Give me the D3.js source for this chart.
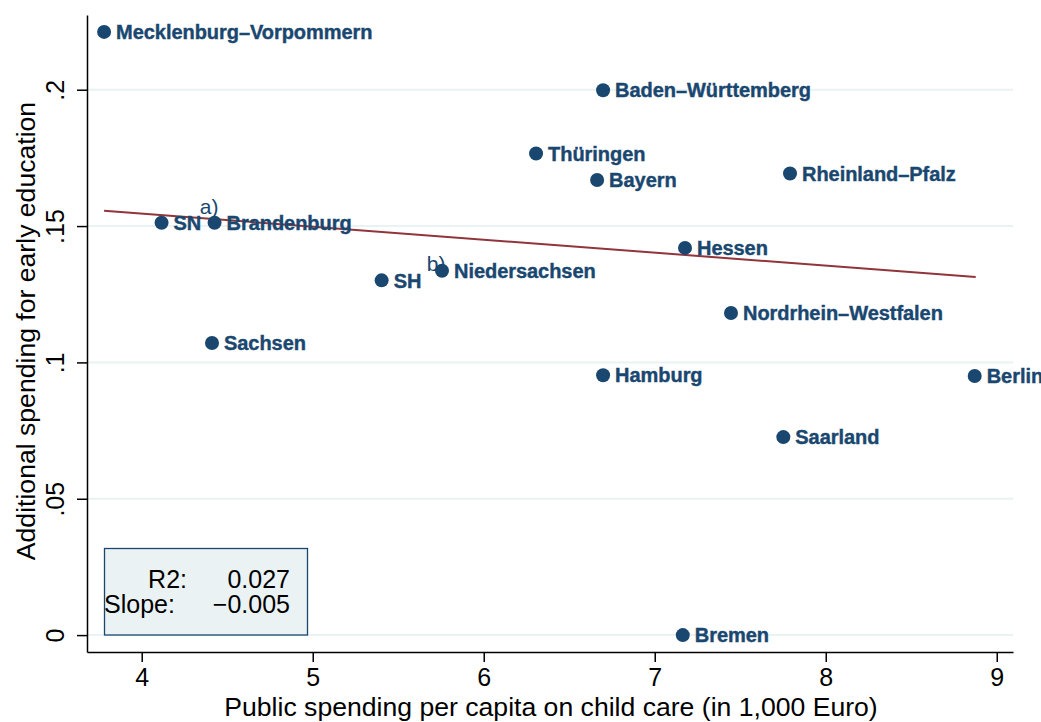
<!DOCTYPE html>
<html><head><meta charset="utf-8">
<script src="https://cdn.jsdelivr.net/npm/d3@7"></script>
<style>
html,body{margin:0;padding:0;background:#fff;}
svg{display:block;font-family:"Liberation Sans",Arial,sans-serif;}
</style></head>
<body><svg id="c" width="1041" height="722"></svg>
<script>
// Data
const states = ["Mecklenburg–Vorpommern","Baden–Württemberg","Thüringen","Bayern","Rheinland–Pfalz","SN","Brandenburg","Hessen","Niedersachsen","SH","Nordrhein–Westfalen","Sachsen","Hamburg","Berlin","Saarland","Bremen"];
const publicSpending = [3.780,6.698,6.306,6.663,7.791,4.116,4.426,7.177,5.756,5.403,7.446,4.411,6.698,8.871,7.752,7.164];
const additionalSpending = [0.2212,0.1998,0.1766,0.1669,0.1693,0.1512,0.1512,0.1420,0.1336,0.1301,0.1181,0.1071,0.0953,0.0950,0.0726,0.0000];
const fitX = [3.780, 8.877];
const fitY = [0.1556, 0.1313];
const notes = [{text:"a)", x:4.34, y:0.1545},{text:"b)", x:5.667, y:0.1335}];
const xTicks = [4,5,6,7,8,9];
const yTicks = [0,0.05,0.1,0.15,0.2];
const yTickLabels = ["0",".05",".1",".15",".2"];
const statLabels = ["R2:","Slope:"];
const statValues = ["0.027","\u22120.005"];

const svg = d3.select("#c");
const navy = "#1a476f", maroon = "#90353b", grid = "#eaf2f3";
const x = d3.scaleLinear().domain([3.68, 9.095]).range([87, 1013]);
const y = d3.scaleLinear().domain([-0.0062, 0.2274]).range([652, 15]);

// gridlines
svg.append("g").selectAll("line").data(yTicks).join("line")
  .attr("x1", 88).attr("x2", 1013)
  .attr("y1", d => y(d)).attr("y2", d => y(d))
  .attr("stroke", grid).attr("stroke-width", 2);

// stats box
svg.append("rect").attr("x", 104.5).attr("y", 548.5).attr("width", 203).attr("height", 86.5)
  .attr("fill", grid).attr("stroke", navy).attr("stroke-width", 1.3);
const st = svg.append("g").attr("font-size", 25).attr("fill", "#000");
st.append("text").attr("x", 187).attr("y", 588).attr("text-anchor","end").text(statLabels[0]);
st.append("text").attr("x", 290).attr("y", 588).attr("text-anchor","end").text(statValues[0]);
st.append("text").attr("x", 104).attr("y", 613).attr("text-anchor","start").text(statLabels[1]);
st.append("text").attr("x", 290).attr("y", 613).attr("text-anchor","end").text(statValues[1]);

// fit line
svg.append("line").attr("x1", x(fitX[0])).attr("y1", y(fitY[0]))
  .attr("x2", x(fitX[1])).attr("y2", y(fitY[1]))
  .attr("stroke", maroon).attr("stroke-width", 2);

// points
const pts = states.map((s,i)=>({s, x:publicSpending[i], y:additionalSpending[i]}));
svg.append("g").selectAll("circle").data(pts).join("circle")
  .attr("cx", d=>x(d.x)).attr("cy", d=>y(d.y)).attr("r", 7).attr("fill", navy);
svg.append("g").selectAll("text").data(pts).join("text")
  .attr("x", d=>x(d.x)+12).attr("y", d=>y(d.y)+7.2)
  .attr("font-size", 20).attr("font-weight","bold").attr("letter-spacing", -0.05)
  .attr("fill", navy).attr("stroke", navy).attr("stroke-width", 0.4)
  .text(d=>d.s);
svg.append("g").selectAll("text").data(notes).join("text")
  .attr("x", d=>x(d.x)).attr("y", d=>y(d.y))
  .attr("font-size", 21).attr("fill", navy).text(d=>d.text);

// axes
const xa = svg.append("g").attr("transform","translate(0,652)")
  .call(d3.axisBottom(x).tickValues(xTicks).tickFormat(d3.format("d")).tickSize(10).tickSizeOuter(0).tickPadding(6));
xa.select(".domain").attr("stroke","#000").attr("stroke-width",1.5);
xa.selectAll(".tick line").attr("stroke","#000").attr("stroke-width",1.5);
xa.selectAll(".tick text").attr("font-size",25).attr("font-family","Liberation Sans, Arial, sans-serif").attr("fill","#000");

const ya = svg.append("g").attr("transform","translate(87,0)")
  .call(d3.axisLeft(y).tickValues(yTicks).tickFormat((d,i)=>yTickLabels[i]).tickSize(10).tickSizeOuter(0).tickPadding(6));
ya.select(".domain").attr("stroke","#000").attr("stroke-width",1.5);
ya.selectAll(".tick line").attr("stroke","#000").attr("stroke-width",1.5);
ya.selectAll(".tick text").attr("font-size",25).attr("font-family","Liberation Sans, Arial, sans-serif").attr("fill","#000")
  .attr("x", 0).attr("dy", 0)
  .attr("transform", "translate(-23,0) rotate(-90)").attr("text-anchor","middle");

svg.append("text").attr("x", 551).attr("y", 716).attr("text-anchor","middle")
  .attr("font-size", 26.6).attr("fill","#000")
  .text("Public spending per capita on child care (in 1,000 Euro)");
svg.append("text").attr("transform","translate(35,331) rotate(-90)").attr("text-anchor","middle")
  .attr("font-size", 26.6).attr("fill","#000")
  .text("Additional spending for early education");
</script></body></html>
